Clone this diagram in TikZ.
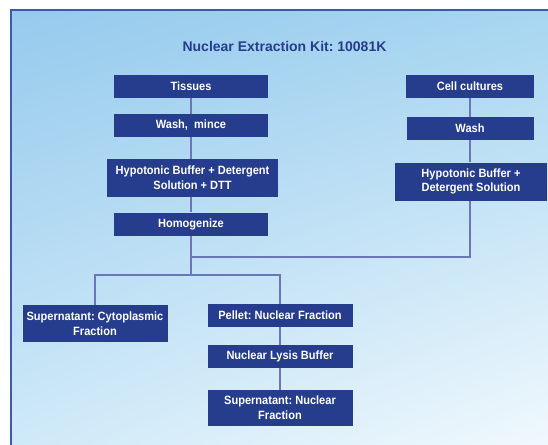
\documentclass[tikz,border=0pt]{standalone}
\usepackage{fontspec}
\setmainfont{Liberation Sans}
\newfontfamily\boxfont[FakeStretch=0.92]{Liberation Sans}
\frenchspacing
\usepackage{xcolor}
\usepackage{tikz}
\usetikzlibrary{positioning, calc, shadings}
\definecolor{boxblue}{RGB}{37,61,140}
\definecolor{linkblue}{RGB}{108,118,182}
\definecolor{rimblue}{RGB}{62,90,170}
\definecolor{skyUL}{RGB}{150,202,237}
\definecolor{skyUR}{RGB}{168,214,241}
\definecolor{skyLL}{RGB}{210,235,249}
\definecolor{skyLR}{RGB}{246,251,254}
\tikzstyle{stage} = [rectangle, inner sep=0pt, fill=boxblue, text=white, align=center, font=\boxfont\fontsize{12}{14.7}\selectfont\bfseries]
\tikzstyle{link} = [draw=linkblue, line width=2pt]

\begin{document}
\begin{tikzpicture}[
        x=1pt, y=-1pt,
        small/.style={stage, minimum height=23pt},
        tall/.style={stage, minimum height=38pt}
    ]
        \useasboundingbox (0,0) rectangle (548,444);

        % Background panel
        \shade[upper left=skyUL, upper right=skyUR, lower left=skyLL, lower right=skyLR]
            (11,10) rectangle (570,470);
        \draw[rimblue, line width=2pt] (570,10) -- (11,10) -- (11,470);

        \node (title) [text=boxblue, font=\fontsize{14}{16}\selectfont\bfseries] at (284.5,46) {Nuclear Extraction Kit: 10081K};

        % Tissue branch
        \node (tissues) [small, minimum width=154pt] at (191,86.5) {Tissues};
        \node (mince) [small, minimum width=154pt] at (191,125.5) {Wash,\ \ mince};
        \node (hypoT) [tall, minimum width=171pt] at (192.5,178) {Hypotonic Buffer + Detergent\\Solution + DTT};
        \node (homog) [small, minimum width=154pt] at (191,224) {Homogenize};

        % Cell culture branch
        \node (cells) [small, minimum width=128pt] at (470,86.5) {Cell cultures};
        \node (wash) [small, minimum width=127pt] at (470,128.5) {Wash};
        \node (hypoC) [tall, minimum width=152pt] at (471,181.5) {Hypotonic Buffer +\\Detergent Solution};

        % Fractions
        \node (cyto) [tall, minimum width=145pt, minimum height=37pt] at (95,323.5) {Supernatant: Cytoplasmic\\Fraction};
        \node (pellet) [small, minimum width=145pt] at (280,315.5) {Pellet: Nuclear Fraction};
        \node (lysis) [small, minimum width=145pt] at (280,356.5) {Nuclear Lysis Buffer};
        \node (nucsup) [tall, minimum width=145pt, minimum height=36pt] at (280,408) {Supernatant: Nuclear\\Fraction};

        % Junctions
        \coordinate (merge) at (191,257);
        \coordinate (split) at (191,275);

        % Connectors
        \draw[link] (tissues) -- (mince);
        \draw[link] (mince) -- (hypoT.north -| mince);
        \draw[link] (hypoT.south -| homog) -- (homog);
        \draw[link] (homog) -- (split);
        \draw[link] (cells) -- (wash);
        \draw[link] (wash) -- (wash |- hypoC.north);
        \draw[link] (wash |- hypoC.south) |- (merge);
        \draw[link] (cyto) |- (split) -| (pellet);
        \draw[link] (pellet) -- (lysis);
        \draw[link] (lysis) -- (nucsup);

    \end{tikzpicture}
\end{document}
